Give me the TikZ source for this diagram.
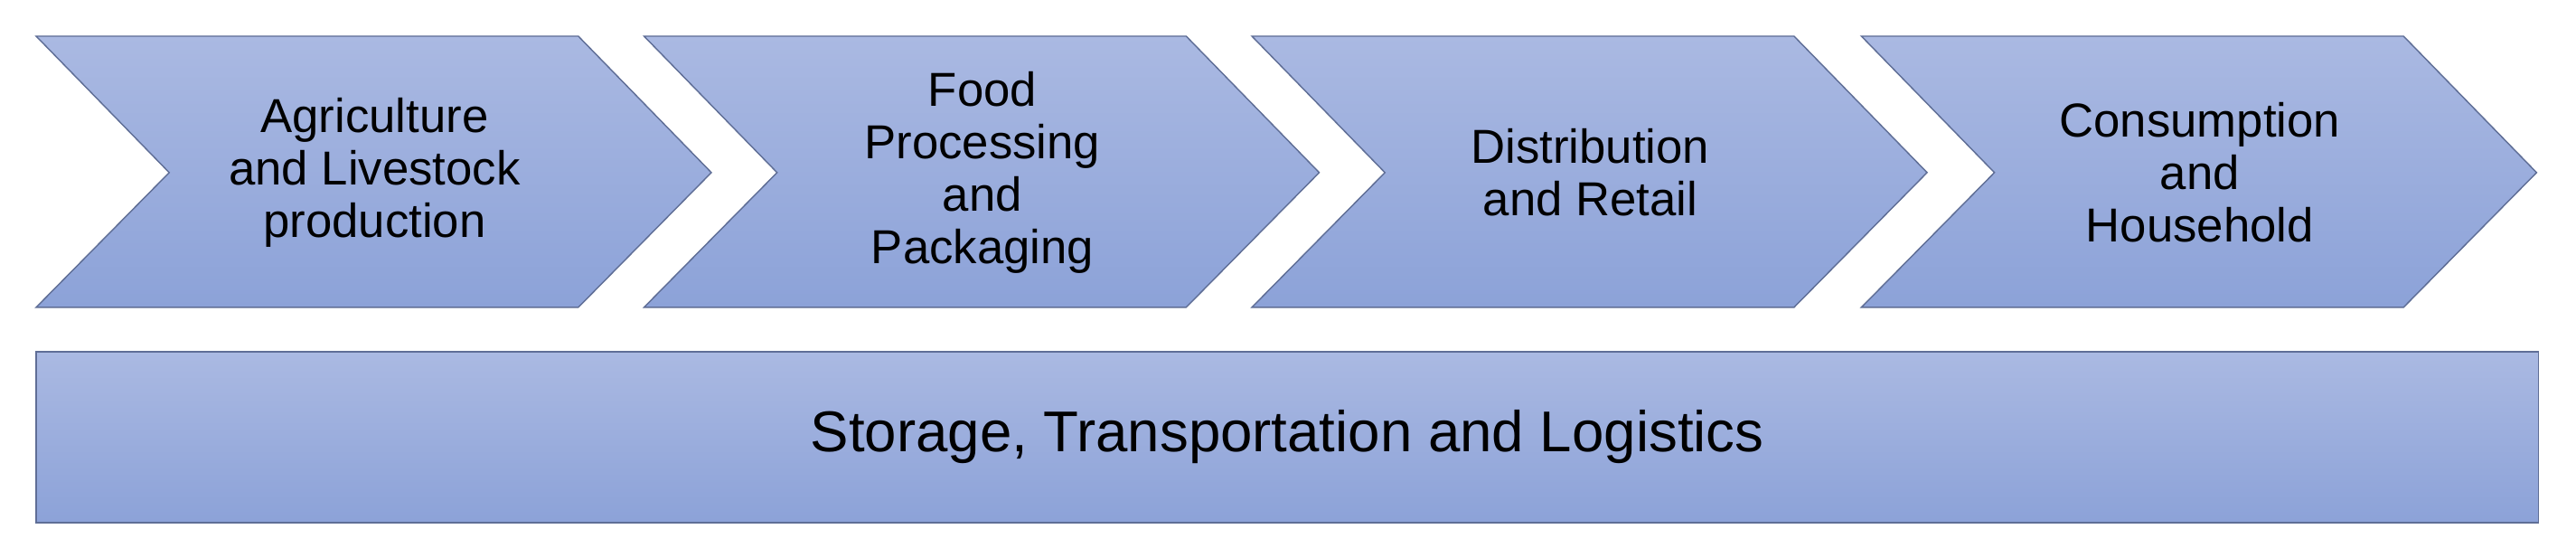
\documentclass[tikz,border=0pt]{standalone}
\usepackage{fontspec}
\setmainfont{Liberation Sans}
\definecolor{topc}{HTML}{AAB9E2}
\definecolor{botc}{HTML}{8CA2D8}
\definecolor{edge}{HTML}{5F6E96}
\begin{document}
\begin{tikzpicture}[x=1pt,y=-1pt,
  shp/.style={top color=topc,bottom color=botc,draw=edge,line width=0.8pt},
  lbl/.style={align=center,font=\fontsize{29}{32}\selectfont}]
\useasboundingbox (0,0) rectangle (1568,333.4);
\foreach \x/\n in {22/a,392/b,762/c,1133/d}{
  \path[shp] (\x,22) -- ++(330,0) -- ++(81,83) -- ++(-81,82) -- ++(-330,0) -- ++(81,-82) -- cycle;
  \coordinate (\n) at (\x+206,105);
}
\node[lbl] (ta) at (a) {Agriculture\\and Livestock\\production};
\node[lbl] (tb) at (b) {Food\\Processing\\and\\Packaging};
\node[lbl] (tc) at (c) {Distribution\\and Retail};
\node[lbl] (td) at (d) {Consumption\\and\\Household};
\path[shp] (22,214) rectangle (1545,318);
\node[lbl,font=\fontsize{35}{40}\selectfont] (s) at (783.5,266) {Storage, Transportation and Logistics};
\end{tikzpicture}
\end{document}
